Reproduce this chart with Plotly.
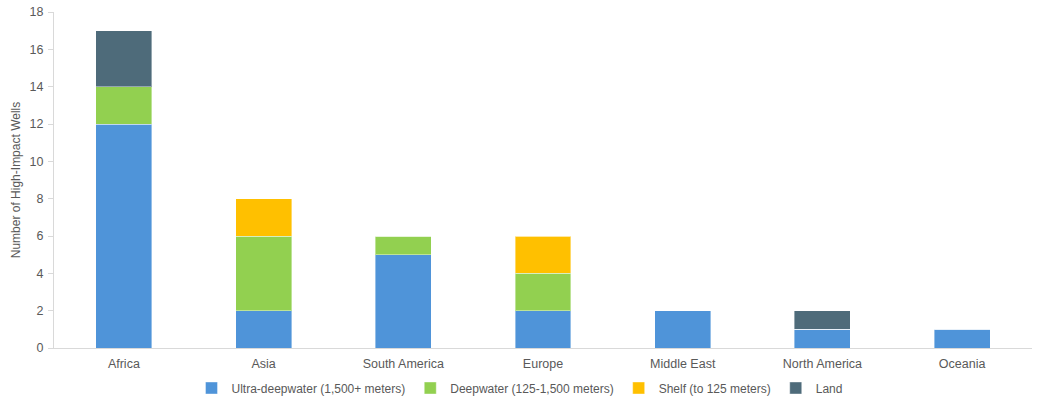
import plotly.graph_objects as go

regions = ["Africa", "Asia", "South America", "Europe", "Middle East", "North America", "Oceania"]
ultra_deep = [12, 2, 5, 2, 2, 1, 1]
deepwater = [2, 4, 1, 2, 0, 0, 0]
shelf = [0, 2, 0, 2, 0, 0, 0]
land = [3, 0, 0, 0, 0, 1, 0]

series = [
    ("Ultra-deepwater (1,500+ meters)", ultra_deep, "#4f94d9"),
    ("Deepwater (125-1,500 meters)", deepwater, "#92d050"),
    ("Shelf (to 125 meters)", shelf, "#ffc000"),
    ("Land", land, "#4e6b7a"),
]

fig = go.Figure()
for name, vals, col in series:
    fig.add_trace(go.Bar(
        x=regions, y=vals, name=name,
        marker=dict(color=col, line=dict(color="rgba(255,255,255,0.4)", width=1)),
        width=0.4,
    ))

fig.update_layout(
    barmode="stack",
    width=1039, height=400,
    margin=dict(l=54, r=7, t=12, b=52, autoexpand=False),
    paper_bgcolor="white", plot_bgcolor="white",
    font=dict(family="Liberation Sans, Arial, sans-serif", size=12, color="#595959"),
    showlegend=True,
    legend=dict(orientation="h", x=0.5, xanchor="center", xref="container",
                y=0.03, yanchor="middle", yref="container",
                font=dict(size=12, color="#595959"), traceorder="normal",
                itemwidth=30, tracegroupgap=0),
    xaxis=dict(showline=True, linecolor="#d9d9d9", linewidth=1, ticks="",
               showgrid=False, ticklabelstandoff=4,
               tickfont=dict(size=12.5, color="#595959")),
    yaxis=dict(range=[0, 18], dtick=2, showline=True, linecolor="#d9d9d9", linewidth=1,
               ticks="outside", ticklen=5, tickcolor="#d9d9d9", showgrid=False,
               zeroline=False, ticklabelstandoff=2,
               title=dict(text="Number of High-Impact Wells", font=dict(size=12, color="#595959"), standoff=6),
               tickfont=dict(size=12.5, color="#595959")),
)

fig.write_html("out.html")
